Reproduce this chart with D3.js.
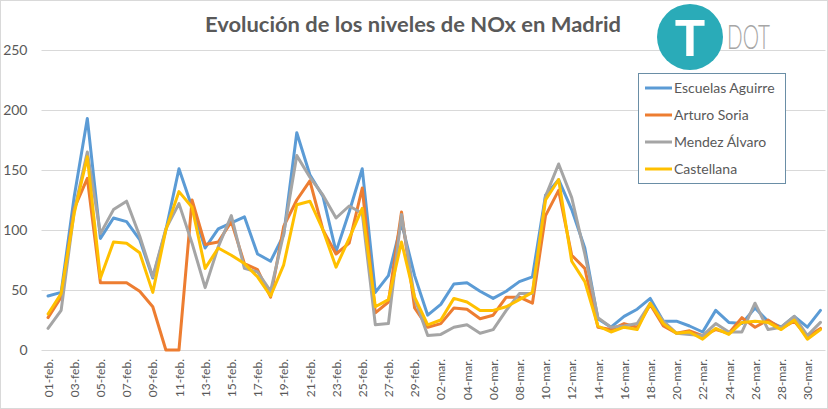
<!DOCTYPE html>
<html>
<head>
<meta charset="utf-8">
<script src="https://cdn.jsdelivr.net/npm/d3@7"></script>
<style>
  body { margin: 0; background: #fff; }
  svg { display: block; font-family: Lato, "Liberation Sans", sans-serif; }
</style>
</head>
<body>
<svg width="828" height="409"></svg>
<script>
const days = [
  "01-feb.","02-feb.","03-feb.","04-feb.","05-feb.","06-feb.","07-feb.","08-feb.","09-feb.","10-feb.",
  "11-feb.","12-feb.","13-feb.","14-feb.","15-feb.","16-feb.","17-feb.","18-feb.","19-feb.","20-feb.",
  "21-feb.","22-feb.","23-feb.","24-feb.","25-feb.","26-feb.","27-feb.","28-feb.","29-feb.","01-mar.",
  "02-mar.","03-mar.","04-mar.","05-mar.","06-mar.","07-mar.","08-mar.","09-mar.","10-mar.","11-mar.",
  "12-mar.","13-mar.","14-mar.","15-mar.","16-mar.","17-mar.","18-mar.","19-mar.","20-mar.","21-mar.",
  "22-mar.","23-mar.","24-mar.","25-mar.","26-mar.","27-mar.","28-mar.","29-mar.","30-mar.","31-mar."
]

const escuelasAguirre = [45,48,128,193,93,110,107,92,60,100, 151,119,85,101,106,111,80,74,96,181,
  146,128,82,115,151,48,62,106,62,29, 38,55,56,49,43,49,57,61,129,142,
  117,85,26,19,28,34,43,24,24,20, 15,33,23,22,35,24,19,28,19,33]
const arturoSoria = [27,44,118,143,56,56,56,49,36,0, 0,125,88,90,107,72,67,44,103,125,
  141,100,80,89,135,31,40,115,35,19, 22,35,34,26,29,44,44,39,112,133,
  79,68,19,17,22,19,38,20,14,16, 12,17,14,27,19,25,18,24,11,18]
const mendezAlvaro = [18,33,116,165,97,117,124,95,61,101, 122,89,52,86,112,68,65,49,97,162,
  144,129,110,120,114,21,22,113,43,12, 13,19,21,14,17,33,47,47,128,155,
  127,80,27,19,20,22,39,24,14,13, 12,22,15,15,39,17,19,28,12,23]
const castellana = [30,47,114,161,60,90,89,81,48,100, 132,119,68,85,79,72,61,45,71,121,
  124,100,69,93,118,36,42,90,44,21, 25,43,40,33,33,36,42,48,125,142,
  74,57,20,15,19,17,39,22,14,15, 9,18,13,23,24,23,17,25,9,17]

const seriesNames = ["Escuelas Aguirre", "Arturo Soria", "Mendez Álvaro", "Castellana"]
const seriesValues = [escuelasAguirre, arturoSoria, mendezAlvaro, castellana]
const seriesColors = ["#5b9bd5", "#ed7d31", "#a5a5a5", "#ffc000"]
const yTicks = [0, 50, 100, 150, 200, 250]

const svg = d3.select("svg")
const textColor = "#595959"

// outer frame
svg.append("rect")
  .attr("x", 0.5).attr("y", 0.5)
  .attr("width", 827).attr("height", 408)
  .attr("fill", "#fff")
  .attr("stroke", "#d9d9d9")

const x = d3.scalePoint()
  .domain(days)
  .range([41.5, 827])
  .padding(0.5)

const y = d3.scaleLinear()
  .domain([0, 250])
  .range([350, 50])

// gridlines + y labels
const yAxis = svg.append("g")
  .attr("transform", "translate(41.5,0)")
  .call(d3.axisLeft(y).tickValues(yTicks).tickSize(-784).tickPadding(14))
yAxis.select(".domain").remove()
yAxis.selectAll("line").attr("stroke", "#d9d9d9")
yAxis.selectAll("text")
  .attr("fill", textColor)
  .style("font-size", "14px")
  .style("font-family", "Lato, sans-serif")

// x labels
const xAxis = svg.append("g")
  .attr("transform", "translate(0,350)")
  .call(d3.axisBottom(x).tickValues(days.filter((d, i) => i % 2 === 0)).tickSize(0))
xAxis.select(".domain").remove()
xAxis.selectAll("text")
  .attr("fill", textColor)
  .style("font-size", "12px")
  .style("font-family", "Lato, sans-serif")
  .attr("transform", "rotate(-90)")
  .attr("text-anchor", "end")
  .attr("x", -9)
  .attr("y", 0)
  .attr("dy", "0.35em")

// lines
const line = d3.line()
  .x((d, i) => x(days[i]))
  .y(d => y(d))

svg.append("g")
  .selectAll("path")
  .data(seriesValues)
  .enter()
  .append("path")
  .attr("d", line)
  .attr("fill", "none")
  .attr("stroke", (d, i) => seriesColors[i])
  .attr("stroke-width", 3)
  .attr("stroke-linejoin", "round")
  .attr("stroke-linecap", "round")

// title
svg.append("text")
  .attr("x", 413)
  .attr("y", 32)
  .attr("text-anchor", "middle")
  .attr("fill", textColor)
  .attr("textLength", 416)
  .attr("lengthAdjust", "spacingAndGlyphs")
  .style("font-size", "20px")
  .style("font-weight", "bold")
  .text("Evolución de los niveles de NOx en Madrid")

// logo
const logo = svg.append("g")
logo.append("circle")
  .attr("cx", 690).attr("cy", 37).attr("r", 33)
  .attr("fill", "#2aabb8")
logo.append("text")
  .attr("x", 690).attr("y", 56)
  .attr("text-anchor", "middle")
  .attr("fill", "#fff")
  .style("font-family", "Roboto, sans-serif")
  .style("font-weight", "bold")
  .style("font-size", "50px")
  .text("T")
logo.append("text")
  .attr("x", 727).attr("y", 49)
  .attr("fill", "#a6a6a6")
  .attr("textLength", 43)
  .attr("lengthAdjust", "spacingAndGlyphs")
  .style("font-family", "Lato, sans-serif")
  .style("font-weight", 300)
  .style("font-size", "34px")
  .text("DOT")

// legend
const legend = svg.append("g")
legend.append("rect")
  .attr("x", 638.5).attr("y", 73.5)
  .attr("width", 147).attr("height", 110)
  .attr("fill", "#fff")
  .attr("stroke", "#6a8ea6")

const entries = legend.selectAll("g.entry")
  .data(seriesNames)
  .enter()
  .append("g")
  .attr("class", "entry")
  .attr("transform", (d, i) => `translate(0,${88 + i * 27})`)
entries.append("line")
  .attr("x1", 645).attr("x2", 672)
  .attr("stroke", (d, i) => seriesColors[i])
  .attr("stroke-width", 3)
entries.append("text")
  .attr("x", 674)
  .attr("dy", "0.35em")
  .attr("fill", textColor)
  .style("font-size", "14px")
  .text(d => d)
</script>
</body>
</html>
